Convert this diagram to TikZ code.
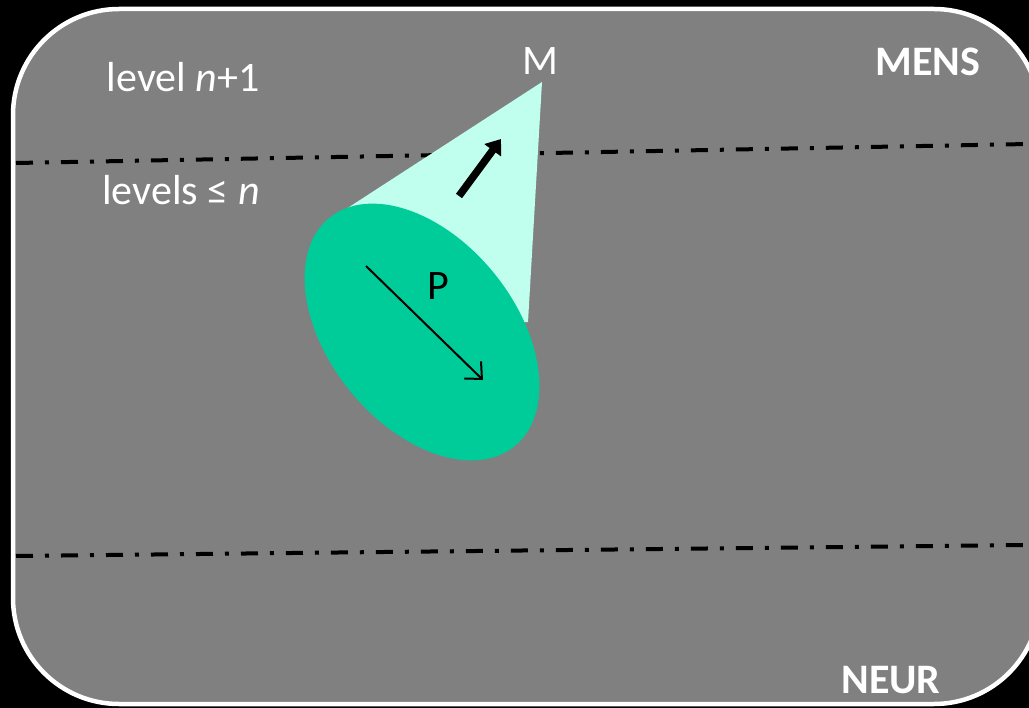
\documentclass[tikz,border=0pt]{standalone}
\usepackage{fontspec}
\setmainfont{Carlito}
\usetikzlibrary{arrows.meta}
\definecolor{panel}{RGB}{128,128,128}
\definecolor{conecol}{RGB}{192,255,238}
\definecolor{blobcol}{RGB}{0,204,153}
\begin{document}
\begin{tikzpicture}[x=1pt,y=-1pt,
  lbl/.style={text=white, font=\fontsize{42}{44}\selectfont, inner sep=0pt},
  bold/.style={text=white, font=\fontsize{42}{44}\selectfont\bfseries, inner sep=0pt},
  dashdot/.style={line width=4pt, dash pattern=on 17pt off 12pt on 4pt off 12pt},
  thinarrow/.style={line width=2pt, -{Straight Barb[length=13pt,width=24pt]}},
  thickarrow/.style={line width=7.5pt, -{Triangle[length=14pt,width=20pt]}}]
\fill[black] (0,0) rectangle (1029,708);
\useasboundingbox (0,0) rectangle (1029,708);
\clip (0,0) rectangle (1029,708);
\draw[white, line width=4.5pt, fill=panel, rounded corners=106pt] (13,9) rectangle (1040,704);
% level boundaries
\coordinate (t1) at (16,163);
\coordinate (t2) at (1029,144);
\coordinate (b1) at (16,556);
\coordinate (b2) at (1029,545);
\draw[dashdot] (t1) -- (t2);
\draw[dashdot] (b1) -- (b2);
% cone and ellipse
\coordinate (apex) at (542,82);
\coordinate (cl) at (343,211);
\coordinate (cr) at (528,322);
\coordinate (ec) at (422,332);
\fill[conecol] (apex) -- (cl) -- (ec) -- (cr) -- cycle;
\fill[blobcol, rotate around={-51:(ec)}] (ec) ellipse [x radius=147pt, y radius=93pt];
% arrows
\coordinate (pa) at (366,266);
\coordinate (pb) at (483,380);
\draw[thinarrow] (pa) -- (pb);
\coordinate (ma) at (459,196);
\coordinate (mb) at (501,139);
\draw[thickarrow] (ma) -- (mb);
% labels
\node[lbl] (lvlup) at (183,77) {level \textit{n}+1};
\node[lbl] (lvldown) at (181,190) {levels ≤ \textit{n}};
\node[lbl] (mlabel) at (540,61) {M};
\node[bold] (mens) at (928,62) {MENS};
\node[bold] (neur) at (891,680) {NEUR};
\node[lbl, text=black] (plabel) at (438,286) {P};
\end{tikzpicture}
\end{document}
